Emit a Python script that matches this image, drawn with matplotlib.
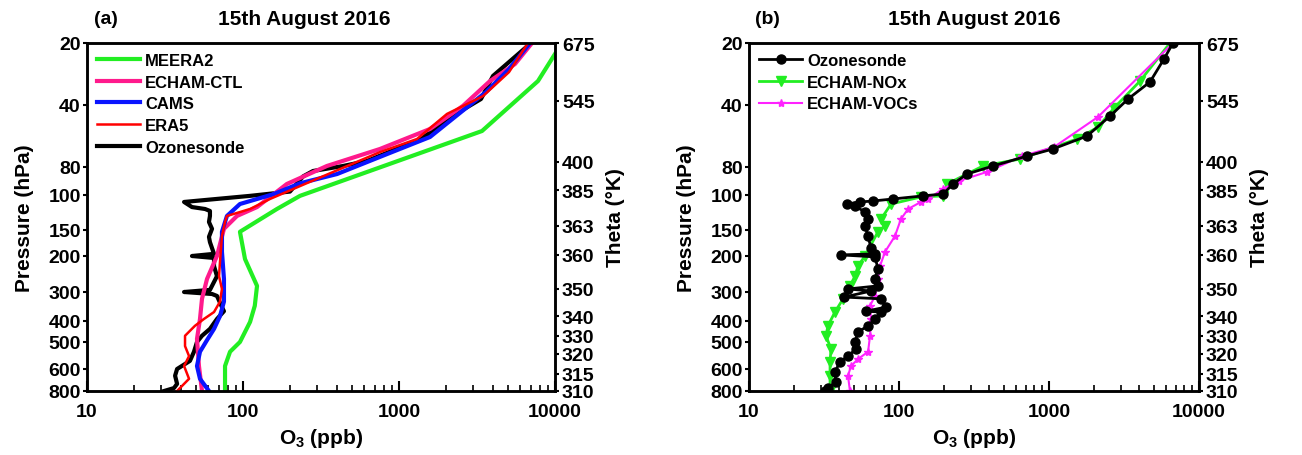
import numpy as np
import matplotlib
matplotlib.use("Agg")
import matplotlib.pyplot as plt

plt.rcParams['font.family'] = ['Liberation Sans', 'DejaVu Sans']
plt.rcParams['font.weight'] = 'bold'
plt.rcParams['mathtext.fontset'] = 'custom'
plt.rcParams['mathtext.bf'] = 'Liberation Sans:bold'
plt.rcParams['mathtext.rm'] = 'Liberation Sans:bold'

# pressure labels of the vertical axis and how far down (px) each one sits
p_ticks = [20, 40, 80, 100, 150, 200, 300, 400, 500, 600, 800]
p_rows = [0, 62, 124, 152, 187, 213, 249, 278, 299, 326, 348]
theta_labels = [675, 545, 400, 385, 363, 360, 350, 340, 330, 320, 315, 310]
theta_p = [20, 38.2, 75.6, 96.3, 143, 197.6, 290, 381, 468, 541, 639, 800]

# panel (a)
meera_o3 = [10000, 7780, 3405, 232, 165, 95.6, 103, 123, 119, 111, 95.6, 82.6, 76.7, 76.7]
meera_p = [22.6, 30.6, 53.5, 101, 117.6, 153, 207, 280, 344, 404, 500, 534, 588, 800]

ctl_o3 = [7125, 5540, 3830, 2570, 1580, 755, 345, 191, 123, 91.5, 75.5, 68.1, 58.8, 54.6, 53.0, 50.7, 52.2, 54.6]
ctl_p = [20, 25.3, 30.6, 40.4, 52.3, 65.4, 79.1, 91.6, 115, 127.5, 148, 200, 259, 321, 392, 484, 588, 800]

cams_o3 = [6918, 5070, 3610, 1580, 778, 401, 232, 158, 95.6, 78.9, 73.3, 73.3, 75.5, 75.5, 71.2, 65.2,
           58.8, 53.0, 50.7, 53.0, 60.5]
cams_p = [20, 26.8, 34.6, 57.2, 70.8, 84.6, 91.1, 99.2, 111, 127.5, 153, 191, 259, 330, 381, 435,
          490, 534, 588, 682, 800]

era5_o3 = [6710, 5070, 3455, 2030, 1304, 755, 281, 149, 111, 78.9, 76.7, 73.3, 71.2, 70.2, 73.3, 71.2,
           65.2, 56.2, 49.2, 42.5, 42.5, 45.1, 41.9, 45.1, 37.8]
era5_p = [20, 27.7, 36.2, 44.2, 58.5, 67.7, 89.1, 104.7, 117.6, 127.5, 136.7, 160.4, 214, 251, 290, 330,
          366, 392, 421, 468, 514, 550, 588, 682, 800]

sonde_a_o3 = [7015, 4005, 3355, 2425, 1888, 1383, 624, 438, 281, 243, 200, 111, 41.9, 47.1, 57.1, 61.4,
              61.4, 60.5, 63.3, 60.5, 61.4, 65.2, 47.1, 65.2, 65.2, 68.1, 63.3, 61.4, 41.9, 63.3, 68.1,
              73.3, 75.5, 68.1, 61.4, 54.6, 50.7, 48.5, 45.7, 42.5, 37.8, 36.7, 37.8, 36.1, 31.2]
sonde_a_p = [20, 28.9, 37.4, 43.3, 49.4, 58.5, 74.8, 79.1, 82.6, 86.2, 97.3, 101, 108.4, 115, 117.6, 120.3,
             127.5, 136.7, 148, 161.8, 171.6, 195.3, 200, 204.5, 224, 251, 280, 293, 300, 306, 312,
             348.4, 363, 392, 435, 468, 500, 534, 568, 580, 600, 655, 729, 770, 800]

# panel (b)
sonde_b_o3 = [6710, 5845, 4715, 3365, 2550, 1792, 1063, 713, 423, 284, 229, 197, 145, 91.2, 67.1, 55.0,
              45.0, 50.9, 59.3, 62.2, 59.3, 62.2, 65.1, 69.2, 41.1, 69.2, 72.4, 69.2, 72.4, 45.7, 65.1,
              43.0, 75.9, 81.9, 60.3, 75.9, 69.2, 62.2, 53.3, 50.9, 51.7, 45.7, 40.4, 37.4, 38.0, 33.6, 32.1]
sonde_b_p = [20, 23.9, 30.9, 37.4, 45.3, 56.6, 65.4, 70.8, 79.1, 84.6, 91.6, 99.2, 101, 104.7, 107.2, 108.4,
             111, 113.6, 121.8, 132.1, 143, 160.4, 184, 195.3, 197.6, 202, 231, 259, 280, 290, 296.7,
             315.5, 321, 348.4, 363, 366, 392, 421, 449.5, 500, 524, 550, 572, 624, 709, 770, 800]

nox_o3 = [6410, 4045, 2712, 2123, 1537, 641, 363, 209, 197, 140, 88.5, 75.9, 80.7, 72.4, 59.3, 53.3,
          50.9, 47.1, 42.4, 37.4, 33.6, 32.6, 35.2, 34.7, 34.7, 34.7]
nox_p = [20, 30.6, 41.4, 51.2, 58.5, 73.2, 79.1, 91.6, 101, 102.3, 111, 132.1, 143, 153, 200, 224,
         251, 280, 321, 366, 421, 468, 524, 572, 655, 800]

voc_o3 = [6710, 2123, 1080, 661, 386, 251, 197, 156, 140, 115, 103, 94, 80.7, 74.7, 72.4, 69.2,
          64.1, 65.1, 64.1, 62.2, 53.3, 47.9, 45.7, 47.1]
voc_p = [20, 45.7, 64.0, 70.8, 83.2, 89.4, 95.2, 104.7, 108.4, 117.6, 132.1, 160.4, 191, 224, 259, 312,
         344, 392, 468, 534, 561, 588, 655, 800]

# vertical scale: piecewise log-pressure through the labelled levels
lp = np.log10(p_ticks)
lp_ext = np.r_[lp[0] - 2, lp, lp[-1] + 2]
rows_ext = np.r_[p_rows[0] - 2 * 206.0, p_rows, p_rows[-1] + 2 * 176.0]


def fwd(p):
    p = np.clip(np.asarray(p, dtype=float), 1e-3, None)
    return np.interp(np.log10(p), lp_ext, rows_ext)


def inv(r):
    return 10 ** np.interp(np.asarray(r, dtype=float), rows_ext, lp_ext)


W, H = 1302, 456
fig = plt.figure(figsize=(W / 100, H / 100), dpi=100)
ax_a = fig.add_axes([87 / W, 64 / H, 468 / W, 348 / H])
ax_b = fig.add_axes([749 / W, 64 / H, 450 / W, 348 / H])

ax_a.plot(sonde_a_o3, sonde_a_p, color='black', lw=3, zorder=1, label='Ozonesonde')
ax_a.plot(meera_o3, meera_p, color='#22ee22', lw=3, zorder=2, label='MEERA2')
ax_a.plot(ctl_o3, ctl_p, color='#ff1a8c', lw=3, zorder=2, label='ECHAM-CTL')
ax_a.plot(cams_o3, cams_p, color='#0a14ff', lw=3, zorder=2, label='CAMS')
ax_a.plot(era5_o3, era5_p, color='#ff0000', lw=1.8, zorder=3, label='ERA5')

ax_b.plot(nox_o3, nox_p, color='#22ee22', lw=2, marker='v', ms=7, zorder=2, label='ECHAM-NOx')
ax_b.plot(voc_o3, voc_p, color='#ff22ff', lw=1.5, marker='*', ms=6, zorder=2, label='ECHAM-VOCs')
ax_b.plot(sonde_b_o3, sonde_b_p, color='black', lw=2, marker='o', ms=6.5, zorder=3, label='Ozonesonde')

for ax, tag, tx in [(ax_a, '(a)', 0.464), (ax_b, '(b)', 0.5)]:
    ax.set_xscale('log')
    ax.set_xlim(10, 10000)
    ax.set_yscale('function', functions=(fwd, inv))
    ax.set_ylim(800, 20)
    ax.set_yticks(p_ticks)
    ax.set_yticklabels([str(v) for v in p_ticks])
    ax.yaxis.set_minor_locator(matplotlib.ticker.NullLocator())
    ax.set_xticks([10, 100, 1000, 10000])
    ax.set_xticklabels(['10', '100', '1000', '10000'])
    ax.tick_params(axis='x', which='major', direction='in', length=7, width=1.5, labelsize=14, pad=9)
    ax.tick_params(axis='x', which='minor', direction='in', length=4, width=1.2)
    ax.tick_params(axis='y', direction='out', length=3, width=1.5, labelsize=14, pad=1.5)
    for s in ax.spines.values():
        s.set_linewidth(1.8)
    ax.set_xlabel(r'O$_\mathbf{3}$ (ppb)', fontsize=15, fontweight='bold', labelpad=4)
    ax.set_ylabel('Pressure (hPa)', fontsize=15, fontweight='bold', labelpad=10)
    ax.text(0.04, 1.069, tag, transform=ax.transAxes, ha='center', va='center', fontsize=14, fontweight='bold')
    ax.text(tx, 1.069, '15th August 2016', transform=ax.transAxes, ha='center', va='center',
            fontsize=15, fontweight='bold')

    axr = ax.twinx()
    axr.set_yscale('function', functions=(fwd, inv))
    axr.set_ylim(800, 20)
    axr.set_yticks(theta_p)
    axr.set_yticklabels([str(v) for v in theta_labels])
    axr.yaxis.set_minor_locator(matplotlib.ticker.NullLocator())
    axr.tick_params(axis='y', direction='out', length=3, width=1.5, labelsize=14, pad=2)
    axr.set_ylabel('Theta (°K)', fontsize=15, fontweight='bold', labelpad=8)
    for s in axr.spines.values():
        s.set_linewidth(1.8)

h, l = ax_a.get_legend_handles_labels()
order = [1, 2, 3, 4, 0]
ax_a.legend([h[i] for i in order], [l[i] for i in order], loc='upper left', frameon=False,
            fontsize=12, handlelength=2.6, labelspacing=0.4, borderaxespad=0.2, handletextpad=0.3)
h, l = ax_b.get_legend_handles_labels()
order = [2, 0, 1]
ax_b.legend([h[i] for i in order], [l[i] for i in order], loc='upper left', frameon=False,
            fontsize=12, handlelength=2.6, labelspacing=0.4, borderaxespad=0.2, handletextpad=0.3)

fig.savefig('out.png', dpi=100)
